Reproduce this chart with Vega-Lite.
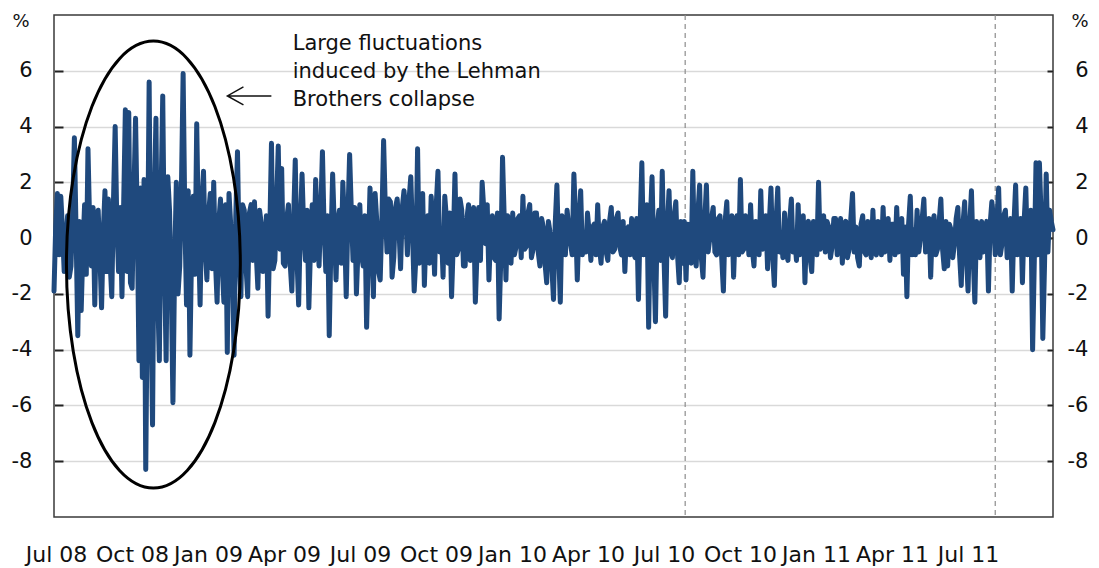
{
"$schema": "https://vega.github.io/schema/vega-lite/v6.json",
"width": 999, "height": 502,
"autosize": "none",
"padding": {"left": 54, "top": 15, "right": 46, "bottom": 51},
"background": "white",
"config": {"view": {"stroke": "#3a3a3a", "strokeWidth": 1.5}, "font": "DejaVu Sans", "axis": {"domain": false, "labelFont": "DejaVu Sans", "titleFont": "DejaVu Sans", "labelFontSize": 21, "titleFontSize": 18, "labelColor": "#111", "titleColor": "#111", "titleFontWeight": "normal"}},
"datasets": {
"series": [
{"d":"2008-06-18","v":-1.9},{"d":"2008-06-20","v":0.4},{"d":"2008-06-22","v":1.6},{"d":"2008-06-24","v":-0.6},{"d":"2008-06-26","v":1.5},{"d":"2008-06-28","v":0.3},{"d":"2008-06-30","v":-1.2},{"d":"2008-07-02","v":-0.2},{"d":"2008-07-04","v":0.8},{"d":"2008-07-06","v":-1.4},{"d":"2008-07-08","v":-1.0},{"d":"2008-07-10","v":1.0},{"d":"2008-07-12","v":3.6},{"d":"2008-07-14","v":0.2},{"d":"2008-07-16","v":-3.5},{"d":"2008-07-18","v":0.6},{"d":"2008-07-20","v":-2.6},{"d":"2008-07-22","v":-0.4},{"d":"2008-07-24","v":1.2},{"d":"2008-07-26","v":-1.3},{"d":"2008-07-28","v":3.2},{"d":"2008-07-30","v":0.5},{"d":"2008-08-01","v":-1.0},{"d":"2008-08-03","v":1.1},{"d":"2008-08-05","v":-2.4},{"d":"2008-08-07","v":0.8},{"d":"2008-08-09","v":1.0},{"d":"2008-08-11","v":-0.6},{"d":"2008-08-13","v":-2.5},{"d":"2008-08-15","v":0.2},{"d":"2008-08-17","v":1.7},{"d":"2008-08-19","v":-1.2},{"d":"2008-08-21","v":1.4},{"d":"2008-08-23","v":-0.8},{"d":"2008-08-25","v":-2.1},{"d":"2008-08-27","v":1.3},{"d":"2008-08-29","v":4.0},{"d":"2008-08-31","v":0.5},{"d":"2008-09-02","v":-1.2},{"d":"2008-09-04","v":1.1},{"d":"2008-09-06","v":-2.1},{"d":"2008-09-08","v":1.2},{"d":"2008-09-10","v":4.6},{"d":"2008-09-12","v":-1.2},{"d":"2008-09-14","v":4.5},{"d":"2008-09-16","v":-1.6},{"d":"2008-09-18","v":-1.8},{"d":"2008-09-20","v":1.5},{"d":"2008-09-22","v":4.3},{"d":"2008-09-24","v":0.6},{"d":"2008-09-26","v":-4.4},{"d":"2008-09-28","v":1.8},{"d":"2008-09-30","v":-5.0},{"d":"2008-10-02","v":2.1},{"d":"2008-10-04","v":-8.3},{"d":"2008-10-06","v":-1.5},{"d":"2008-10-08","v":5.6},{"d":"2008-10-10","v":-2.2},{"d":"2008-10-12","v":-6.7},{"d":"2008-10-14","v":1.2},{"d":"2008-10-16","v":4.3},{"d":"2008-10-18","v":-1.9},{"d":"2008-10-20","v":-4.4},{"d":"2008-10-22","v":1.5},{"d":"2008-10-24","v":5.1},{"d":"2008-10-26","v":-0.8},{"d":"2008-10-28","v":-4.4},{"d":"2008-10-30","v":2.2},{"d":"2008-11-01","v":1.0},{"d":"2008-11-03","v":-1.6},{"d":"2008-11-05","v":-5.9},{"d":"2008-11-07","v":-1.0},{"d":"2008-11-09","v":2.0},{"d":"2008-11-11","v":-2.0},{"d":"2008-11-13","v":-1.0},{"d":"2008-11-15","v":1.8},{"d":"2008-11-17","v":5.9},{"d":"2008-11-19","v":0.8},{"d":"2008-11-21","v":-2.4},{"d":"2008-11-23","v":1.7},{"d":"2008-11-25","v":-4.2},{"d":"2008-11-27","v":-0.4},{"d":"2008-11-29","v":1.5},{"d":"2008-12-01","v":-1.3},{"d":"2008-12-03","v":4.1},{"d":"2008-12-05","v":0.3},{"d":"2008-12-07","v":-2.4},{"d":"2008-12-09","v":1.2},{"d":"2008-12-11","v":2.4},{"d":"2008-12-13","v":-0.4},{"d":"2008-12-15","v":-1.5},{"d":"2008-12-17","v":0.9},{"d":"2008-12-19","v":1.6},{"d":"2008-12-21","v":-1.1},{"d":"2008-12-23","v":2.0},{"d":"2008-12-25","v":-0.8},{"d":"2008-12-27","v":-2.3},{"d":"2008-12-29","v":0.6},{"d":"2008-12-31","v":1.4},{"d":"2009-01-02","v":-1.0},
{"d":"2009-01-04","v":-2.3},{"d":"2009-01-06","v":1.2},{"d":"2009-01-08","v":-4.1},{"d":"2009-01-10","v":1.6},{"d":"2009-01-12","v":0.5},{"d":"2009-01-14","v":-1.2},{"d":"2009-01-16","v":-4.2},{"d":"2009-01-18","v":0.8},{"d":"2009-01-20","v":3.1},{"d":"2009-01-22","v":-0.6},{"d":"2009-01-24","v":-2.1},{"d":"2009-01-26","v":1.2},{"d":"2009-01-28","v":1.0},{"d":"2009-01-30","v":-1.0},{"d":"2009-02-01","v":-2.1},{"d":"2009-02-03","v":0.9},{"d":"2009-02-05","v":1.2},{"d":"2009-02-07","v":-0.8},{"d":"2009-02-09","v":1.3},{"d":"2009-02-11","v":-0.5},{"d":"2009-02-13","v":-1.8},{"d":"2009-02-15","v":1.0},{"d":"2009-02-17","v":0.5},{"d":"2009-02-19","v":-1.2},{"d":"2009-02-21","v":-0.6},{"d":"2009-02-23","v":0.8},{"d":"2009-02-25","v":-2.8},{"d":"2009-02-27","v":0.2},{"d":"2009-03-01","v":3.4},{"d":"2009-03-03","v":-1.1},{"d":"2009-03-05","v":-0.8},{"d":"2009-03-07","v":1.2},{"d":"2009-03-09","v":3.3},{"d":"2009-03-11","v":-0.4},{"d":"2009-03-13","v":2.5},{"d":"2009-03-15","v":-0.9},{"d":"2009-03-17","v":-1.0},{"d":"2009-03-19","v":0.7},{"d":"2009-03-21","v":1.2},{"d":"2009-03-23","v":-0.9},{"d":"2009-03-25","v":-1.9},{"d":"2009-03-27","v":0.6},{"d":"2009-03-29","v":2.8},{"d":"2009-03-31","v":-0.7},{"d":"2009-04-02","v":-2.4},{"d":"2009-04-04","v":0.5},{"d":"2009-04-06","v":2.3},{"d":"2009-04-08","v":0.3},{"d":"2009-04-10","v":-0.8},{"d":"2009-04-12","v":1.0},{"d":"2009-04-14","v":-2.5},{"d":"2009-04-16","v":-0.3},{"d":"2009-04-18","v":1.2},{"d":"2009-04-20","v":-0.8},{"d":"2009-04-22","v":2.1},{"d":"2009-04-24","v":0.4},{"d":"2009-04-26","v":-1.0},{"d":"2009-04-28","v":0.9},{"d":"2009-04-30","v":3.1},{"d":"2009-05-02","v":0.3},{"d":"2009-05-04","v":-1.2},{"d":"2009-05-06","v":0.8},{"d":"2009-05-08","v":-3.5},{"d":"2009-05-10","v":-0.2},{"d":"2009-05-12","v":2.3},{"d":"2009-05-14","v":0.4},{"d":"2009-05-16","v":-1.5},{"d":"2009-05-18","v":0.6},{"d":"2009-05-20","v":1.0},{"d":"2009-05-22","v":-0.9},{"d":"2009-05-24","v":2.0},{"d":"2009-05-26","v":0.5},{"d":"2009-05-28","v":-2.1},{"d":"2009-05-30","v":0.8},{"d":"2009-06-01","v":3.0},{"d":"2009-06-03","v":1.0},{"d":"2009-06-05","v":-0.8},{"d":"2009-06-07","v":1.1},{"d":"2009-06-09","v":-2.0},{"d":"2009-06-11","v":-0.3},{"d":"2009-06-13","v":1.2},{"d":"2009-06-15","v":-0.6},{"d":"2009-06-17","v":-1.0},{"d":"2009-06-19","v":0.8},{"d":"2009-06-21","v":-3.2},{"d":"2009-06-23","v":-0.6},{"d":"2009-06-25","v":1.8},{"d":"2009-06-27","v":0.1},{"d":"2009-06-29","v":-2.1},{"d":"2009-07-01","v":1.6},{"d":"2009-07-03","v":0.6},{"d":"2009-07-05","v":-1.2},{"d":"2009-07-07","v":-1.5},{"d":"2009-07-09","v":0.7},{"d":"2009-07-11","v":3.5},{"d":"2009-07-13","v":1.1},{"d":"2009-07-15","v":-0.5},{"d":"2009-07-17","v":1.4},{"d":"2009-07-19","v":1.3},{"d":"2009-07-21","v":-1.4},{"d":"2009-07-23","v":-0.7},{"d":"2009-07-25","v":1.1},{"d":"2009-07-27","v":1.4},{"d":"2009-07-29","v":0.4},{"d":"2009-07-31","v":-1.1},{"d":"2009-08-02","v":1.1},{"d":"2009-08-04","v":1.7},{"d":"2009-08-06","v":0.9},{"d":"2009-08-08","v":-0.6},{"d":"2009-08-10","v":1.4},{"d":"2009-08-12","v":2.2},{"d":"2009-08-14","v":0.2},{"d":"2009-08-16","v":-1.9},{"d":"2009-08-18","v":-0.7},{"d":"2009-08-20","v":3.2},{"d":"2009-08-22","v":-0.9},{"d":"2009-08-24","v":0.2},{"d":"2009-08-26","v":1.6},{"d":"2009-08-28","v":-1.7},{"d":"2009-08-30","v":0.2},{"d":"2009-09-01","v":0.8},{"d":"2009-09-03","v":-0.9},{"d":"2009-09-05","v":1.5},{"d":"2009-09-07","v":0.4},{"d":"2009-09-09","v":-1.3},{"d":"2009-09-11","v":1.2},{"d":"2009-09-13","v":2.4},{"d":"2009-09-15","v":-0.5},{"d":"2009-09-17","v":0.3},{"d":"2009-09-19","v":-1.4},{"d":"2009-09-21","v":1.5},{"d":"2009-09-23","v":0.7},{"d":"2009-09-25","v":-0.9},{"d":"2009-09-27","v":0.9},{"d":"2009-09-29","v":-2.1},{"d":"2009-10-01","v":-0.2},{"d":"2009-10-03","v":2.3},{"d":"2009-10-05","v":-0.6},{"d":"2009-10-07","v":-0.4},{"d":"2009-10-09","v":1.4},{"d":"2009-10-11","v":1.0},{"d":"2009-10-13","v":-1.0},{"d":"2009-10-15","v":-1.0},{"d":"2009-10-17","v":0.7},{"d":"2009-10-19","v":1.2},{"d":"2009-10-21","v":-0.8},{"d":"2009-10-23","v":-0.5},{"d":"2009-10-25","v":1.1},{"d":"2009-10-27","v":-2.3},{"d":"2009-10-29","v":-0.5},{"d":"2009-10-31","v":1.1},{"d":"2009-11-02","v":-0.8},{"d":"2009-11-04","v":2.0},{"d":"2009-11-06","v":1.0},{"d":"2009-11-08","v":-0.2},{"d":"2009-11-10","v":1.2},{"d":"2009-11-12","v":-1.5},{"d":"2009-11-14","v":0.2},{"d":"2009-11-16","v":0.8},{"d":"2009-11-18","v":-0.7},{"d":"2009-11-20","v":-0.8},{"d":"2009-11-22","v":0.9},{"d":"2009-11-24","v":-2.9},{"d":"2009-11-26","v":-0.7},{"d":"2009-11-28","v":2.9},{"d":"2009-11-30","v":0.7},{"d":"2009-12-02","v":-1.5},{"d":"2009-12-04","v":0.8},{"d":"2009-12-06","v":0.3},{"d":"2009-12-08","v":-0.9},{"d":"2009-12-10","v":0.9},{"d":"2009-12-12","v":-0.6},{"d":"2009-12-14","v":-0.3},{"d":"2009-12-16","v":0.7},{"d":"2009-12-18","v":0.8},{"d":"2009-12-20","v":-0.7},{"d":"2009-12-22","v":1.5},{"d":"2009-12-24","v":-0.4},{"d":"2009-12-26","v":-0.3},{"d":"2009-12-28","v":0.9},{"d":"2009-12-30","v":1.2},{"d":"2010-01-01","v":-0.7},
{"d":"2010-01-03","v":-0.4},{"d":"2010-01-05","v":0.9},{"d":"2010-01-07","v":0.9},{"d":"2010-01-09","v":-0.5},{"d":"2010-01-11","v":-1.0},{"d":"2010-01-13","v":0.7},{"d":"2010-01-15","v":0.4},{"d":"2010-01-17","v":-0.9},{"d":"2010-01-19","v":-1.6},{"d":"2010-01-21","v":0.6},{"d":"2010-01-23","v":0.2},{"d":"2010-01-25","v":-1.0},{"d":"2010-01-27","v":-2.2},{"d":"2010-01-29","v":0.5},{"d":"2010-01-31","v":1.9},{"d":"2010-02-02","v":-0.4},{"d":"2010-02-04","v":-2.3},{"d":"2010-02-06","v":0.8},{"d":"2010-02-08","v":0.6},{"d":"2010-02-10","v":-0.6},{"d":"2010-02-12","v":1.0},{"d":"2010-02-14","v":0.4},{"d":"2010-02-16","v":-0.2},{"d":"2010-02-18","v":-0.6},{"d":"2010-02-20","v":2.3},{"d":"2010-02-22","v":0.7},{"d":"2010-02-24","v":-1.5},{"d":"2010-02-26","v":0.5},{"d":"2010-02-28","v":1.7},{"d":"2010-03-02","v":-0.6},{"d":"2010-03-04","v":0.2},{"d":"2010-03-06","v":-0.5},{"d":"2010-03-08","v":0.9},{"d":"2010-03-10","v":0.2},{"d":"2010-03-12","v":-0.8},{"d":"2010-03-14","v":0.4},{"d":"2010-03-16","v":0.5},{"d":"2010-03-18","v":-0.6},{"d":"2010-03-20","v":1.2},{"d":"2010-03-22","v":-0.3},{"d":"2010-03-24","v":-0.9},{"d":"2010-03-26","v":0.4},{"d":"2010-03-28","v":0.6},{"d":"2010-03-30","v":-0.5},{"d":"2010-04-01","v":-0.8},{"d":"2010-04-03","v":0.6},{"d":"2010-04-05","v":1.1},{"d":"2010-04-07","v":-0.5},{"d":"2010-04-09","v":-0.4},{"d":"2010-04-11","v":0.7},{"d":"2010-04-13","v":0.9},{"d":"2010-04-15","v":-0.3},{"d":"2010-04-17","v":-0.6},{"d":"2010-04-19","v":0.6},{"d":"2010-04-21","v":-1.2},{"d":"2010-04-23","v":0.3},{"d":"2010-04-25","v":0.4},{"d":"2010-04-27","v":-0.6},{"d":"2010-04-29","v":0.7},{"d":"2010-05-01","v":-0.5},{"d":"2010-05-03","v":-0.7},{"d":"2010-05-05","v":0.7},{"d":"2010-05-07","v":-2.2},{"d":"2010-05-09","v":0.5},{"d":"2010-05-11","v":2.7},{"d":"2010-05-13","v":-0.6},{"d":"2010-05-15","v":0.0},{"d":"2010-05-17","v":1.2},{"d":"2010-05-19","v":-3.2},{"d":"2010-05-21","v":0.6},{"d":"2010-05-23","v":2.2},{"d":"2010-05-25","v":-0.6},{"d":"2010-05-27","v":-3.0},{"d":"2010-05-29","v":0.4},{"d":"2010-05-31","v":1.0},{"d":"2010-06-02","v":-0.8},{"d":"2010-06-04","v":2.4},{"d":"2010-06-06","v":-0.6},{"d":"2010-06-08","v":-2.8},{"d":"2010-06-10","v":0.4},{"d":"2010-06-12","v":1.7},{"d":"2010-06-14","v":-0.5},{"d":"2010-06-16","v":-0.7},{"d":"2010-06-18","v":0.8},{"d":"2010-06-20","v":1.3},{"d":"2010-06-22","v":-0.6},{"d":"2010-06-24","v":-1.6},{"d":"2010-06-26","v":0.6},{"d":"2010-06-28","v":-0.9},{"d":"2010-06-30","v":0.6},{"d":"2010-07-02","v":-1.5},{"d":"2010-07-04","v":0.5},{"d":"2010-07-06","v":0.4},{"d":"2010-07-08","v":-0.9},{"d":"2010-07-10","v":2.4},{"d":"2010-07-12","v":-0.6},{"d":"2010-07-14","v":-1.0},{"d":"2010-07-16","v":0.9},{"d":"2010-07-18","v":1.9},{"d":"2010-07-20","v":-0.7},{"d":"2010-07-22","v":-1.4},{"d":"2010-07-24","v":0.6},{"d":"2010-07-26","v":1.9},{"d":"2010-07-28","v":-0.5},{"d":"2010-07-30","v":0.0},{"d":"2010-08-01","v":0.7},{"d":"2010-08-03","v":1.1},{"d":"2010-08-05","v":-0.5},{"d":"2010-08-07","v":-0.6},{"d":"2010-08-09","v":0.7},{"d":"2010-08-11","v":0.8},{"d":"2010-08-13","v":-0.7},{"d":"2010-08-15","v":-1.9},{"d":"2010-08-17","v":0.6},{"d":"2010-08-19","v":1.3},{"d":"2010-08-21","v":-0.6},{"d":"2010-08-23","v":-0.2},{"d":"2010-08-25","v":0.8},{"d":"2010-08-27","v":-1.4},{"d":"2010-08-29","v":0.4},{"d":"2010-08-31","v":0.8},{"d":"2010-09-02","v":-0.6},{"d":"2010-09-04","v":2.1},{"d":"2010-09-06","v":-0.5},{"d":"2010-09-08","v":-0.4},{"d":"2010-09-10","v":0.8},{"d":"2010-09-12","v":0.6},{"d":"2010-09-14","v":-0.6},{"d":"2010-09-16","v":1.2},{"d":"2010-09-18","v":-0.4},{"d":"2010-09-20","v":-1.0},{"d":"2010-09-22","v":0.6},{"d":"2010-09-24","v":0.5},{"d":"2010-09-26","v":-0.6},{"d":"2010-09-28","v":1.7},{"d":"2010-09-30","v":-0.4},{"d":"2010-10-02","v":-0.3},{"d":"2010-10-04","v":0.8},{"d":"2010-10-06","v":-1.1},{"d":"2010-10-08","v":0.5},{"d":"2010-10-10","v":1.8},{"d":"2010-10-12","v":-0.6},{"d":"2010-10-14","v":-1.7},{"d":"2010-10-16","v":0.6},{"d":"2010-10-18","v":1.8},{"d":"2010-10-20","v":-0.5},{"d":"2010-10-22","v":0.2},{"d":"2010-10-24","v":-0.7},{"d":"2010-10-26","v":0.9},{"d":"2010-10-28","v":-0.5},{"d":"2010-10-30","v":-0.8},{"d":"2010-11-01","v":0.6},{"d":"2010-11-03","v":1.4},{"d":"2010-11-05","v":-0.5},{"d":"2010-11-07","v":0.0},{"d":"2010-11-09","v":-0.8},{"d":"2010-11-11","v":1.2},{"d":"2010-11-13","v":-0.6},{"d":"2010-11-15","v":-0.4},{"d":"2010-11-17","v":0.8},{"d":"2010-11-19","v":-1.6},{"d":"2010-11-21","v":0.5},{"d":"2010-11-23","v":0.6},{"d":"2010-11-25","v":-0.7},{"d":"2010-11-27","v":-1.2},{"d":"2010-11-29","v":0.6},{"d":"2010-12-01","v":0.5},{"d":"2010-12-03","v":-0.6},{"d":"2010-12-05","v":2.0},{"d":"2010-12-07","v":-0.4},{"d":"2010-12-09","v":-0.2},{"d":"2010-12-11","v":0.8},{"d":"2010-12-13","v":-0.5},{"d":"2010-12-15","v":0.6},{"d":"2010-12-17","v":0.4},{"d":"2010-12-19","v":-0.7},{"d":"2010-12-21","v":-0.3},{"d":"2010-12-23","v":0.7},{"d":"2010-12-25","v":0.7},{"d":"2010-12-27","v":-0.6},{"d":"2010-12-29","v":0.1},{"d":"2010-12-31","v":0.7},
{"d":"2011-01-02","v":-0.9},{"d":"2011-01-04","v":0.5},{"d":"2011-01-06","v":0.6},{"d":"2011-01-08","v":-0.7},{"d":"2011-01-10","v":-0.4},{"d":"2011-01-12","v":0.7},{"d":"2011-01-14","v":1.6},{"d":"2011-01-16","v":-0.5},{"d":"2011-01-18","v":0.4},{"d":"2011-01-20","v":-0.7},{"d":"2011-01-22","v":-1.0},{"d":"2011-01-24","v":0.5},{"d":"2011-01-26","v":0.8},{"d":"2011-01-28","v":-0.5},{"d":"2011-01-30","v":-0.6},{"d":"2011-02-01","v":0.6},{"d":"2011-02-03","v":0.3},{"d":"2011-02-05","v":-0.7},{"d":"2011-02-07","v":1.0},{"d":"2011-02-09","v":-0.5},{"d":"2011-02-11","v":-0.6},{"d":"2011-02-13","v":0.6},{"d":"2011-02-15","v":0.4},{"d":"2011-02-17","v":-0.6},{"d":"2011-02-19","v":1.1},{"d":"2011-02-21","v":-0.5},{"d":"2011-02-23","v":-0.2},{"d":"2011-02-25","v":0.7},{"d":"2011-02-27","v":-0.8},{"d":"2011-03-01","v":0.5},{"d":"2011-03-03","v":0.5},{"d":"2011-03-05","v":-0.6},{"d":"2011-03-07","v":1.1},{"d":"2011-03-09","v":-0.5},{"d":"2011-03-11","v":-0.3},{"d":"2011-03-13","v":0.7},{"d":"2011-03-15","v":-1.3},{"d":"2011-03-17","v":0.4},{"d":"2011-03-19","v":-2.1},{"d":"2011-03-21","v":0.5},{"d":"2011-03-23","v":1.5},{"d":"2011-03-25","v":-0.6},{"d":"2011-03-27","v":0.3},{"d":"2011-03-29","v":-0.6},{"d":"2011-03-31","v":1.0},{"d":"2011-04-02","v":-0.5},{"d":"2011-04-04","v":0.0},{"d":"2011-04-06","v":0.7},{"d":"2011-04-08","v":1.4},{"d":"2011-04-10","v":-0.5},{"d":"2011-04-12","v":-0.2},{"d":"2011-04-14","v":0.7},{"d":"2011-04-16","v":-1.4},{"d":"2011-04-18","v":0.5},{"d":"2011-04-20","v":0.8},{"d":"2011-04-22","v":-0.6},{"d":"2011-04-24","v":-0.4},{"d":"2011-04-26","v":0.6},{"d":"2011-04-28","v":1.4},{"d":"2011-04-30","v":-0.4},{"d":"2011-05-02","v":-1.1},{"d":"2011-05-04","v":0.6},{"d":"2011-05-06","v":-1.0},{"d":"2011-05-08","v":0.5},{"d":"2011-05-10","v":0.3},{"d":"2011-05-12","v":-0.7},{"d":"2011-05-14","v":-0.2},{"d":"2011-05-16","v":0.7},{"d":"2011-05-18","v":1.1},{"d":"2011-05-20","v":-0.6},{"d":"2011-05-22","v":-1.7},{"d":"2011-05-24","v":0.5},{"d":"2011-05-26","v":1.3},{"d":"2011-05-28","v":-0.6},{"d":"2011-05-30","v":-1.9},{"d":"2011-06-01","v":0.5},{"d":"2011-06-03","v":1.7},{"d":"2011-06-05","v":-0.6},{"d":"2011-06-07","v":-2.3},{"d":"2011-06-09","v":0.6},{"d":"2011-06-11","v":0.3},{"d":"2011-06-13","v":-0.7},{"d":"2011-06-15","v":0.6},{"d":"2011-06-17","v":-0.5},{"d":"2011-06-19","v":-0.4},{"d":"2011-06-21","v":0.6},{"d":"2011-06-23","v":-1.9},{"d":"2011-06-25","v":0.5},{"d":"2011-06-27","v":1.3},{"d":"2011-06-29","v":0.7},{"d":"2011-07-01","v":-0.6},{"d":"2011-07-03","v":0.6},{"d":"2011-07-05","v":1.8},{"d":"2011-07-07","v":-0.6},{"d":"2011-07-09","v":-0.2},{"d":"2011-07-11","v":0.8},{"d":"2011-07-13","v":1.0},{"d":"2011-07-15","v":-0.7},{"d":"2011-07-17","v":-0.4},{"d":"2011-07-19","v":0.7},{"d":"2011-07-21","v":-1.9},{"d":"2011-07-23","v":0.5},{"d":"2011-07-25","v":1.9},{"d":"2011-07-27","v":-0.6},{"d":"2011-07-29","v":0.2},{"d":"2011-07-31","v":0.7},{"d":"2011-08-02","v":-1.6},{"d":"2011-08-04","v":0.6},{"d":"2011-08-06","v":1.8},{"d":"2011-08-08","v":-0.6},{"d":"2011-08-10","v":0.0},{"d":"2011-08-12","v":1.0},{"d":"2011-08-14","v":-4.0},{"d":"2011-08-16","v":-0.8},{"d":"2011-08-18","v":2.7},{"d":"2011-08-20","v":-0.6},{"d":"2011-08-22","v":2.7},{"d":"2011-08-24","v":0.8},{"d":"2011-08-26","v":-3.6},{"d":"2011-08-28","v":-1.0},{"d":"2011-08-30","v":2.3},{"d":"2011-09-01","v":-0.5},{"d":"2011-09-03","v":1.0},{"d":"2011-09-05","v":0.6},{"d":"2011-09-07","v":0.3}
]
},
"layer": [
{"data": {"values": [{"v": 0}]}, "mark": {"type": "rule", "color": "#333333", "strokeWidth": 1},
 "encoding": {"y": {"field": "v", "type": "quantitative", "scale": {"domain": [-10, 8], "nice": false}, "axis": null}}},
{"data": {"values": [{"d": "2010-07-01"}, {"d": "2011-07-01"}]}, "mark": {"type": "rule", "color": "#8c8c8c", "strokeWidth": 1.2, "strokeDash": [5, 4]},
 "encoding": {"x": {"field": "d", "type": "temporal", "scale": {"domain": [{"year": 2008, "month": 6, "date": 18}, {"year": 2011, "month": 9, "date": 7}], "nice": false}, "axis": null}}},
{"data": {"name": "series"}, "mark": {"type": "line", "color": "#1F497D", "strokeWidth": 5, "strokeJoin": "round", "strokeCap": "round"},
 "encoding": {
  "x": {"field": "d", "type": "temporal", "scale": {"domain": [{"year": 2008, "month": 6, "date": 18}, {"year": 2011, "month": 9, "date": 7}], "nice": false}, "axis": null},
  "y": {"field": "v", "type": "quantitative", "scale": {"domain": [-10, 8], "nice": false}, "axis": {"orient": "left", "values": [-8, -6, -4, -2, 0, 2, 4, 6], "grid": true, "gridColor": "#d9d9d9", "gridWidth": 1.5, "tickSize": -9, "tickColor": "#222222", "tickWidth": 2, "labelPadding": 31, "labelAlign": "right", "labelExpr": "datum.value < 0 ? '-' + abs(datum.value) : '' + datum.value", "title": "%", "titleAngle": 0, "titleX": -25, "titleY": 6, "titleAlign": "right", "titleBaseline": "middle"}}
 }},
{"data": {"values": [{"d": "2008-10-13", "v": -0.95}]}, "mark": {"type": "point", "shape": "M -0.389 0 A 0.389 1 0 1 0 0.389 0 A 0.389 1 0 1 0 -0.389 0 Z", "size": 199809, "filled": false, "stroke": "#000000", "strokeWidth": 3, "opacity": 1},
 "encoding": {
  "x": {"field": "d", "type": "temporal", "scale": {"domain": [{"year": 2008, "month": 6, "date": 18}, {"year": 2011, "month": 9, "date": 7}], "nice": false}, "axis": null},
  "y": {"field": "v", "type": "quantitative", "scale": {"domain": [-10, 8], "nice": false}, "axis": null}}},
{"data": {"values": [{"d": "2009-02-03", "v": 5.1}]}, "mark": {"type": "point", "shape": "M 1 0 L -1 0 M -0.27 -0.41 L -1 0 L -0.27 0.41", "size": 1936, "filled": false, "stroke": "#111111", "strokeWidth": 1.5, "opacity": 1},
 "encoding": {
  "x": {"field": "d", "type": "temporal", "scale": {"domain": [{"year": 2008, "month": 6, "date": 18}, {"year": 2011, "month": 9, "date": 7}], "nice": false}, "axis": null},
  "y": {"field": "v", "type": "quantitative", "scale": {"domain": [-10, 8], "nice": false}, "axis": null}}},
{"data": {"values": [{"d": "2009-03-26", "v": 6.95, "t": "Large fluctuations"}, {"d": "2009-03-26", "v": 5.95, "t": "induced by the Lehman"}, {"d": "2009-03-26", "v": 4.95, "t": "Brothers collapse"}]},
 "mark": {"type": "text", "align": "left", "baseline": "middle", "fontSize": 21, "font": "DejaVu Sans", "color": "#111111"},
 "encoding": {
  "x": {"field": "d", "type": "temporal", "scale": {"domain": [{"year": 2008, "month": 6, "date": 18}, {"year": 2011, "month": 9, "date": 7}], "nice": false}, "axis": null},
  "y": {"field": "v", "type": "quantitative", "scale": {"domain": [-10, 8], "nice": false}, "axis": null},
  "text": {"field": "t"}}},
{"data": {"values": [{"i": 0}, {"i": 12}]}, "mark": {"type": "point", "opacity": 0},
 "encoding": {"x": {"field": "i", "type": "quantitative", "scale": {"domain": [-0.026, 13.118], "nice": false, "zero": false}, "axis": {"orient": "bottom", "values": [0, 1, 2, 3, 4, 5, 6, 7, 8, 9, 10, 11, 12], "ticks": false, "grid": false, "labelFontSize": 22, "labelPadding": 27, "labelAlign": "center", "labelFlush": false, "labelOverlap": false, "title": null, "labelExpr": "['Jul 08','Oct 08','Jan 09','Apr 09','Jul 09','Oct 09','Jan 10','Apr 10','Jul 10','Oct 10','Jan 11','Apr 11','Jul 11'][datum.value]"}}}},
{"data": {"values": [{"v": 0}]}, "mark": {"type": "point", "opacity": 0},
 "encoding": {"y": {"field": "v", "type": "quantitative", "scale": {"domain": [-10, 8], "nice": false}, "axis": {"orient": "right", "values": [-8, -6, -4, -2, 0, 2, 4, 6], "grid": false, "tickSize": -6, "tickColor": "#222222", "tickWidth": 2, "labelPadding": 41, "labelAlign": "right", "labelExpr": "datum.value < 0 ? '-' + abs(datum.value) : '' + datum.value", "title": "%", "titleAngle": 0, "titleX": 35, "titleY": 6, "titleAlign": "right", "titleBaseline": "middle"}}}}
],
"resolve": {"scale": {"x": "independent", "y": "independent"}}
}
